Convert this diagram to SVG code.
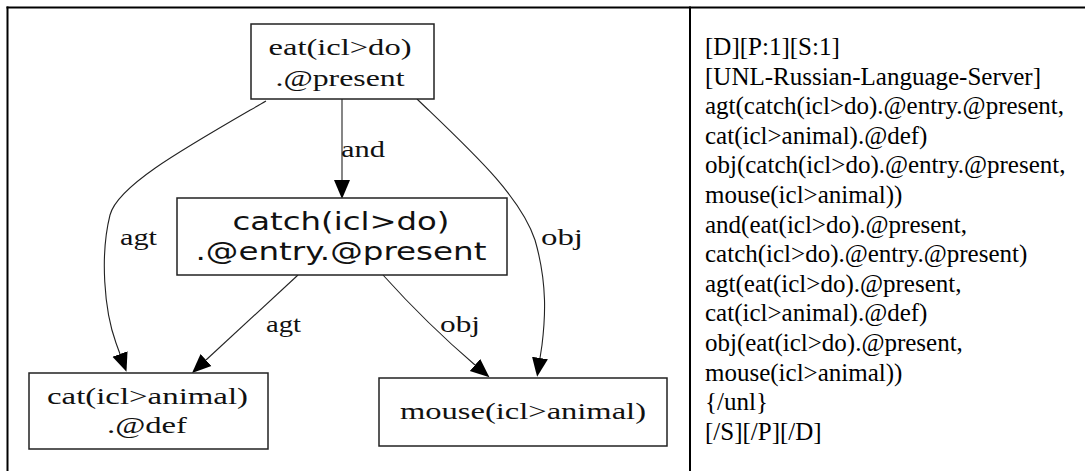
<svg xmlns="http://www.w3.org/2000/svg" width="1085" height="471" viewBox="0 0 1085 471">
<style>
.frame{stroke:#000;stroke-width:2;fill:none}
.box{fill:#fff;stroke:#222;stroke-width:1.5}
.serif{font-family:"Liberation Serif","Times New Roman",serif;font-size:24px;fill:#111}
.sans{font-family:"DejaVu Sans","Liberation Sans",sans-serif;font-size:25px;fill:#111}
.edge{fill:none;stroke:#222;stroke-width:1.1}
.unl{font-family:"Liberation Serif","Times New Roman",serif;font-size:25px;fill:#000}
</style>
<defs>
<marker id="arr" markerUnits="userSpaceOnUse" markerWidth="20" markerHeight="18" refX="0" refY="8" orient="auto" viewBox="0 0 20 16">
<path d="M0,0 L19,8 L0,16 z" fill="#000"/>
</marker>
</defs>
<rect width="1085" height="471" fill="#fff"/>
<g id="table">
<line class="frame" x1="6.5" y1="7.5" x2="1085" y2="7.5"/>
<line class="frame" x1="7.5" y1="6.5" x2="7.5" y2="471"/>
<line class="frame" x1="690" y1="6.5" x2="690" y2="471"/>
</g>
<g id="connectors">
<path class="edge" d="M342,99 L342,180" marker-end="url(#arr)"/>
<path class="edge" d="M266,101 C185,148 118,185 110,215 C100,255 104,310 116,343 L120,354" marker-end="url(#arr)"/>
<path class="edge" d="M417,99 C470,150 520,195 535,240 C548,285 545,320 542,345 L540,358" marker-end="url(#arr)"/>
<path class="edge" d="M298,275 L206,360" marker-end="url(#arr)"/>
<path class="edge" d="M383,275 C410,305 440,335 475,365" marker-end="url(#arr)"/>
<text class="serif" x="341" y="157" textLength="44" lengthAdjust="spacingAndGlyphs">and</text>
<text class="serif" x="120" y="245" textLength="37" lengthAdjust="spacingAndGlyphs">agt</text>
<text class="serif" x="541" y="245" textLength="42" lengthAdjust="spacingAndGlyphs">obj</text>
<text class="serif" x="266" y="332" textLength="35" lengthAdjust="spacingAndGlyphs">agt</text>
<text class="serif" x="440" y="332" textLength="40" lengthAdjust="spacingAndGlyphs">obj</text>
</g>
<g id="eat">
<rect class="box" x="251" y="24" width="183" height="75"/>
<text class="serif" x="340" y="55" text-anchor="middle" textLength="143" lengthAdjust="spacingAndGlyphs">eat(icl&gt;do)</text>
<text class="serif" x="340" y="86" text-anchor="middle" textLength="129" lengthAdjust="spacingAndGlyphs">.@present</text>
</g>
<g id="catch">
<rect class="box" x="177" y="198" width="330" height="77"/>
<text class="sans" x="341" y="230" text-anchor="middle" textLength="217" lengthAdjust="spacingAndGlyphs">catch(icl&gt;do)</text>
<text class="sans" x="341" y="260" text-anchor="middle" textLength="291" lengthAdjust="spacingAndGlyphs">.@entry.@present</text>
</g>
<g id="cat">
<rect class="box" x="29" y="373" width="239" height="76"/>
<text class="serif" x="147.5" y="404" text-anchor="middle" textLength="201" lengthAdjust="spacingAndGlyphs">cat(icl&gt;animal)</text>
<text class="serif" x="147" y="433" text-anchor="middle" textLength="80" lengthAdjust="spacingAndGlyphs">.@def</text>
</g>
<g id="mouse">
<rect class="box" x="379" y="378" width="288" height="68"/>
<text class="serif" x="523" y="419" text-anchor="middle" textLength="246" lengthAdjust="spacingAndGlyphs">mouse(icl&gt;animal)</text>
</g>
<g id="unl-text" class="unl">
<text x="705" y="55">[D][P:1][S:1]</text>
<text x="705" y="84.6">[UNL-Russian-Language-Server]</text>
<text x="705" y="114.2">agt(catch(icl&gt;do).@entry.@present,</text>
<text x="705" y="143.8">cat(icl&gt;animal).@def)</text>
<text x="705" y="173.4">obj(catch(icl&gt;do).@entry.@present,</text>
<text x="705" y="203">mouse(icl&gt;animal))</text>
<text x="705" y="232.6">and(eat(icl&gt;do).@present,</text>
<text x="705" y="262.2">catch(icl&gt;do).@entry.@present)</text>
<text x="705" y="291.8">agt(eat(icl&gt;do).@present,</text>
<text x="705" y="321.4">cat(icl&gt;animal).@def)</text>
<text x="705" y="351">obj(eat(icl&gt;do).@present,</text>
<text x="705" y="380.6">mouse(icl&gt;animal))</text>
<text x="705" y="410.2">{/unl}</text>
<text x="705" y="439.8">[/S][/P][/D]</text>
</g>
</svg>
